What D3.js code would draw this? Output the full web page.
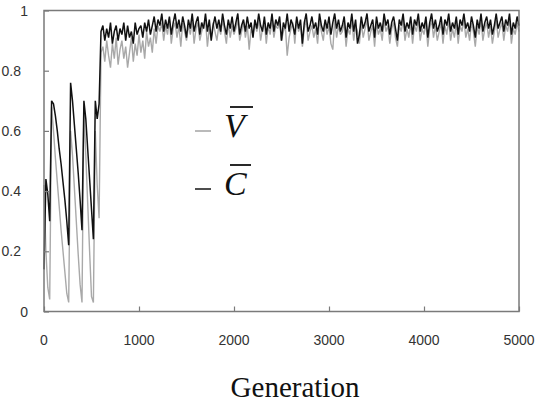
<!DOCTYPE html>
<html>
<head>
<meta charset="utf-8">
<script src="https://cdn.jsdelivr.net/npm/d3@7/dist/d3.min.js"></script>
<style>
  body { margin: 0; background: #fff; }
  svg { display: block; }
</style>
</head>
<body>
<svg id="chart" width="535" height="406"></svg>
<script>
// Population means sampled every 20 generations (0 … 5000)
const generationStep = 20;

// V̄ — mean of V (grey trace)
const meanV = [
  0.42, 0.20, 0.08, 0.04, 0.68, 0.60, 0.51, 0.43, 0.35, 0.27,
  0.20, 0.13, 0.06, 0.03, 0.60, 0.52, 0.41, 0.30, 0.19, 0.09,
  0.03, 0.68, 0.52, 0.36, 0.20, 0.05, 0.03, 0.60, 0.42, 0.31,
  0.86,
  0.88, 0.83, 0.90, 0.85, 0.81, 0.89, 0.84, 0.91, 0.82, 0.87,
  0.90, 0.84, 0.88, 0.81, 0.86, 0.91, 0.83, 0.89, 0.85, 0.92,
  0.86, 0.90, 0.84, 0.93, 0.88, 0.91, 0.86, 0.94, 0.89, 0.95,
  0.93, 0.96, 0.90, 0.95, 0.92, 0.97, 0.89, 0.94, 0.96, 0.91,
  0.95, 0.88, 0.96, 0.93, 0.90, 0.95, 0.92, 0.97, 0.89, 0.94,
  0.96, 0.90, 0.93, 0.95, 0.97, 0.88, 0.94, 0.91, 0.96, 0.93,
  0.90, 0.95, 0.92, 0.97, 0.93, 0.89, 0.96, 0.91, 0.95, 0.92,
  0.94, 0.97, 0.90, 0.93, 0.96, 0.91, 0.95, 0.87, 0.94, 0.92,
  0.96, 0.93, 0.97, 0.90, 0.94, 0.96, 0.89, 0.95, 0.92, 0.97,
  0.91, 0.95, 0.94, 0.96, 0.90, 0.93, 0.95, 0.85, 0.91, 0.94,
  0.96, 0.89, 0.97, 0.93, 0.95, 0.88, 0.94, 0.97, 0.90, 0.93,
  0.95, 0.91, 0.94, 0.89, 0.97, 0.93, 0.90, 0.96, 0.92, 0.95,
  0.89, 0.87, 0.97, 0.91, 0.95, 0.92, 0.93, 0.96, 0.88, 0.94,
  0.92, 0.97, 0.90, 0.95, 0.93, 0.89, 0.96, 0.91, 0.94, 0.97,
  0.90, 0.93, 0.95, 0.88, 0.96, 0.92, 0.94, 0.90, 0.97, 0.93,
  0.95, 0.89, 0.94, 0.96, 0.91, 0.88, 0.95, 0.93, 0.97, 0.90,
  0.94, 0.91, 0.96, 0.89, 0.95, 0.93, 0.97, 0.90, 0.94, 0.92,
  0.96, 0.88, 0.94, 0.97, 0.91, 0.95, 0.90, 0.93, 0.96, 0.89,
  0.95, 0.92, 0.97, 0.90, 0.94, 0.91, 0.96, 0.89, 0.95, 0.93,
  0.97, 0.91, 0.94, 0.90, 0.96, 0.93, 0.88, 0.95, 0.92, 0.97,
  0.90, 0.94, 0.96, 0.91, 0.95, 0.89, 0.93, 0.97, 0.91, 0.94,
  0.96, 0.90, 0.95, 0.93, 0.97, 0.89, 0.94, 0.92, 0.96, 0.93
];

// C̄ — mean of C (black trace)
const meanC = [
  0.14, 0.44, 0.39, 0.30, 0.70, 0.69, 0.65, 0.60, 0.54, 0.49,
  0.43, 0.37, 0.30, 0.22, 0.76, 0.70, 0.62, 0.54, 0.46, 0.37,
  0.27, 0.70, 0.64, 0.54, 0.44, 0.34, 0.24, 0.70, 0.64, 0.69,
  0.93,
  0.95, 0.90, 0.94, 0.91, 0.96, 0.89, 0.93, 0.95, 0.90, 0.94,
  0.92, 0.96, 0.90, 0.95, 0.91, 0.93, 0.89, 0.96, 0.92, 0.94,
  0.95, 0.91, 0.96, 0.93, 0.97, 0.92, 0.95, 0.98, 0.93, 0.97,
  0.95, 0.99, 0.93, 0.97, 0.94, 0.98, 0.92, 0.96, 0.99, 0.94,
  0.97, 0.93, 0.98, 0.95, 0.91, 0.97, 0.94, 0.99, 0.93, 0.96,
  0.98, 0.92, 0.96, 0.94, 0.99, 0.93, 0.97, 0.90, 0.95, 0.98,
  0.94, 0.97, 0.93, 0.99, 0.95, 0.92, 0.97, 0.94, 0.98, 0.93,
  0.96, 0.99, 0.92, 0.95, 0.97, 0.93, 0.98, 0.94, 0.96, 0.91,
  0.97, 0.94, 0.99, 0.95, 0.93, 0.98, 0.92, 0.96, 0.94, 0.99,
  0.93, 0.97, 0.95, 0.98, 0.90, 0.96, 0.94, 0.99, 0.93, 0.97,
  0.95, 0.92, 0.98, 0.94, 0.97, 0.89, 0.96, 0.99, 0.93, 0.95,
  0.98, 0.94, 0.96, 0.92, 0.99, 0.95, 0.93, 0.97, 0.94, 0.98,
  0.92, 0.96, 0.99, 0.94, 0.97, 0.93, 0.95, 0.98, 0.91, 0.96,
  0.94, 0.99, 0.93, 0.97, 0.89, 0.92, 0.98, 0.94, 0.96, 0.99,
  0.93, 0.95, 0.97, 0.91, 0.98, 0.94, 0.96, 0.93, 0.99, 0.95,
  0.97, 0.92, 0.96, 0.98, 0.94, 0.90, 0.97, 0.95, 0.99, 0.93,
  0.96, 0.94, 0.98, 0.92, 0.97, 0.95, 0.99, 0.93, 0.96, 0.94,
  0.98, 0.91, 0.96, 0.99, 0.94, 0.97, 0.93, 0.95, 0.98, 0.92,
  0.97, 0.95, 0.99, 0.93, 0.96, 0.94, 0.98, 0.92, 0.97, 0.95,
  0.99, 0.94, 0.96, 0.93, 0.98, 0.95, 0.91, 0.97, 0.94, 0.99,
  0.93, 0.96, 0.98, 0.94, 0.97, 0.92, 0.95, 0.99, 0.94, 0.96,
  0.98, 0.93, 0.97, 0.95, 0.99, 0.92, 0.96, 0.94, 0.98, 0.95
];

const xTickValues = [0, 1000, 2000, 3000, 4000, 5000];
const yTickValues = [0, 0.2, 0.4, 0.6, 0.8, 1];
const yTickLabels = ["0", "0.2", "0.4", "0.6", "0.8", "1"];
const xAxisTitle = "Generation";
const legendLetters = ["V", "C"];

const svg = d3.select("#chart");
const plot = { left: 44, right: 519, top: 10.5, bottom: 311.5 };

const x = d3.scaleLinear().domain([0, 5000]).range([plot.left, plot.right]);
const y = d3.scaleLinear().domain([0, 1]).range([plot.bottom, plot.top]);

const line = d3.line()
  .x((d, i) => x(i * generationStep))
  .y(d => y(d));

// traces: grey V̄ underneath, black C̄ on top
svg.append("path")
  .datum(meanV)
  .attr("d", line)
  .attr("fill", "none")
  .attr("stroke", "#a9a9a9")
  .attr("stroke-width", 1.4)
  .attr("stroke-linejoin", "bevel");

svg.append("path")
  .datum(meanC)
  .attr("d", line)
  .attr("fill", "none")
  .attr("stroke", "#111")
  .attr("stroke-width", 1.5)
  .attr("stroke-linejoin", "bevel");

// frame
svg.append("rect")
  .attr("x", plot.left).attr("y", plot.top)
  .attr("width", plot.right - plot.left)
  .attr("height", plot.bottom - plot.top)
  .attr("fill", "none")
  .attr("stroke", "#7a7a7a")
  .attr("stroke-width", 1.5);

// inward ticks
const yAxis = d3.axisLeft(y).tickValues(yTickValues).tickSize(-5).tickFormat("");
const yg = svg.append("g").attr("transform", `translate(${plot.left},0)`).call(yAxis);
yg.select(".domain").remove();
yg.selectAll(".tick line").attr("stroke", "#7a7a7a").attr("stroke-width", 1.2);

const xAxis = d3.axisBottom(x).tickValues(xTickValues).tickSize(-5).tickFormat("");
const xg = svg.append("g").attr("transform", `translate(0,${plot.bottom})`).call(xAxis);
xg.select(".domain").remove();
xg.selectAll(".tick line").attr("stroke", "#7a7a7a").attr("stroke-width", 1.2);

// tick labels
const labelFont = "Liberation Sans, Arial, sans-serif";
svg.append("g").selectAll("text")
  .data(yTickValues)
  .join("text")
  .attr("x", (d, i) => yTickLabels[i].length > 1 ? 21 : 28)
  .attr("y", d => y(d))
  .attr("dy", "0.36em")
  .attr("text-anchor", "end")
  .attr("font-family", labelFont)
  .attr("font-size", 14)
  .attr("fill", "#333")
  .text((d, i) => yTickLabels[i]);

svg.append("g").selectAll("text")
  .data(xTickValues)
  .join("text")
  .attr("x", d => x(d))
  .attr("y", 345)
  .attr("text-anchor", "middle")
  .attr("font-family", labelFont)
  .attr("font-size", 14)
  .attr("fill", "#333")
  .text(d => d);

// axis title
svg.append("text")
  .attr("x", 295)
  .attr("y", 397)
  .attr("text-anchor", "middle")
  .attr("font-family", "Liberation Serif, Times New Roman, serif")
  .attr("font-size", 29)
  .attr("fill", "#111")
  .text(xAxisTitle);

// legend: short dash + italic letter with overbar
const legendItems = [
  { letter: legendLetters[0], color: "#a9a9a9", cy: 131 },
  { letter: legendLetters[1], color: "#222", cy: 189 }
];
const lg = svg.append("g");
legendItems.forEach(item => {
  lg.append("line")
    .attr("x1", 195).attr("x2", 211)
    .attr("y1", item.cy).attr("y2", item.cy)
    .attr("stroke", item.color)
    .attr("stroke-width", 1.6);
  const t = lg.append("text")
    .attr("x", 224)
    .attr("y", item.cy + 6)
    .attr("font-family", "Liberation Serif, Times New Roman, serif")
    .attr("font-style", "italic")
    .attr("font-size", 34)
    .attr("fill", "#111")
    .text(item.letter);
  const bb = t.node().getBBox();
  lg.append("line")
    .attr("x1", bb.x + 6).attr("x2", bb.x + bb.width + 4)
    .attr("y1", item.cy - 24).attr("y2", item.cy - 24)
    .attr("stroke", "#111")
    .attr("stroke-width", 1.8);
});
</script>
</body>
</html>
